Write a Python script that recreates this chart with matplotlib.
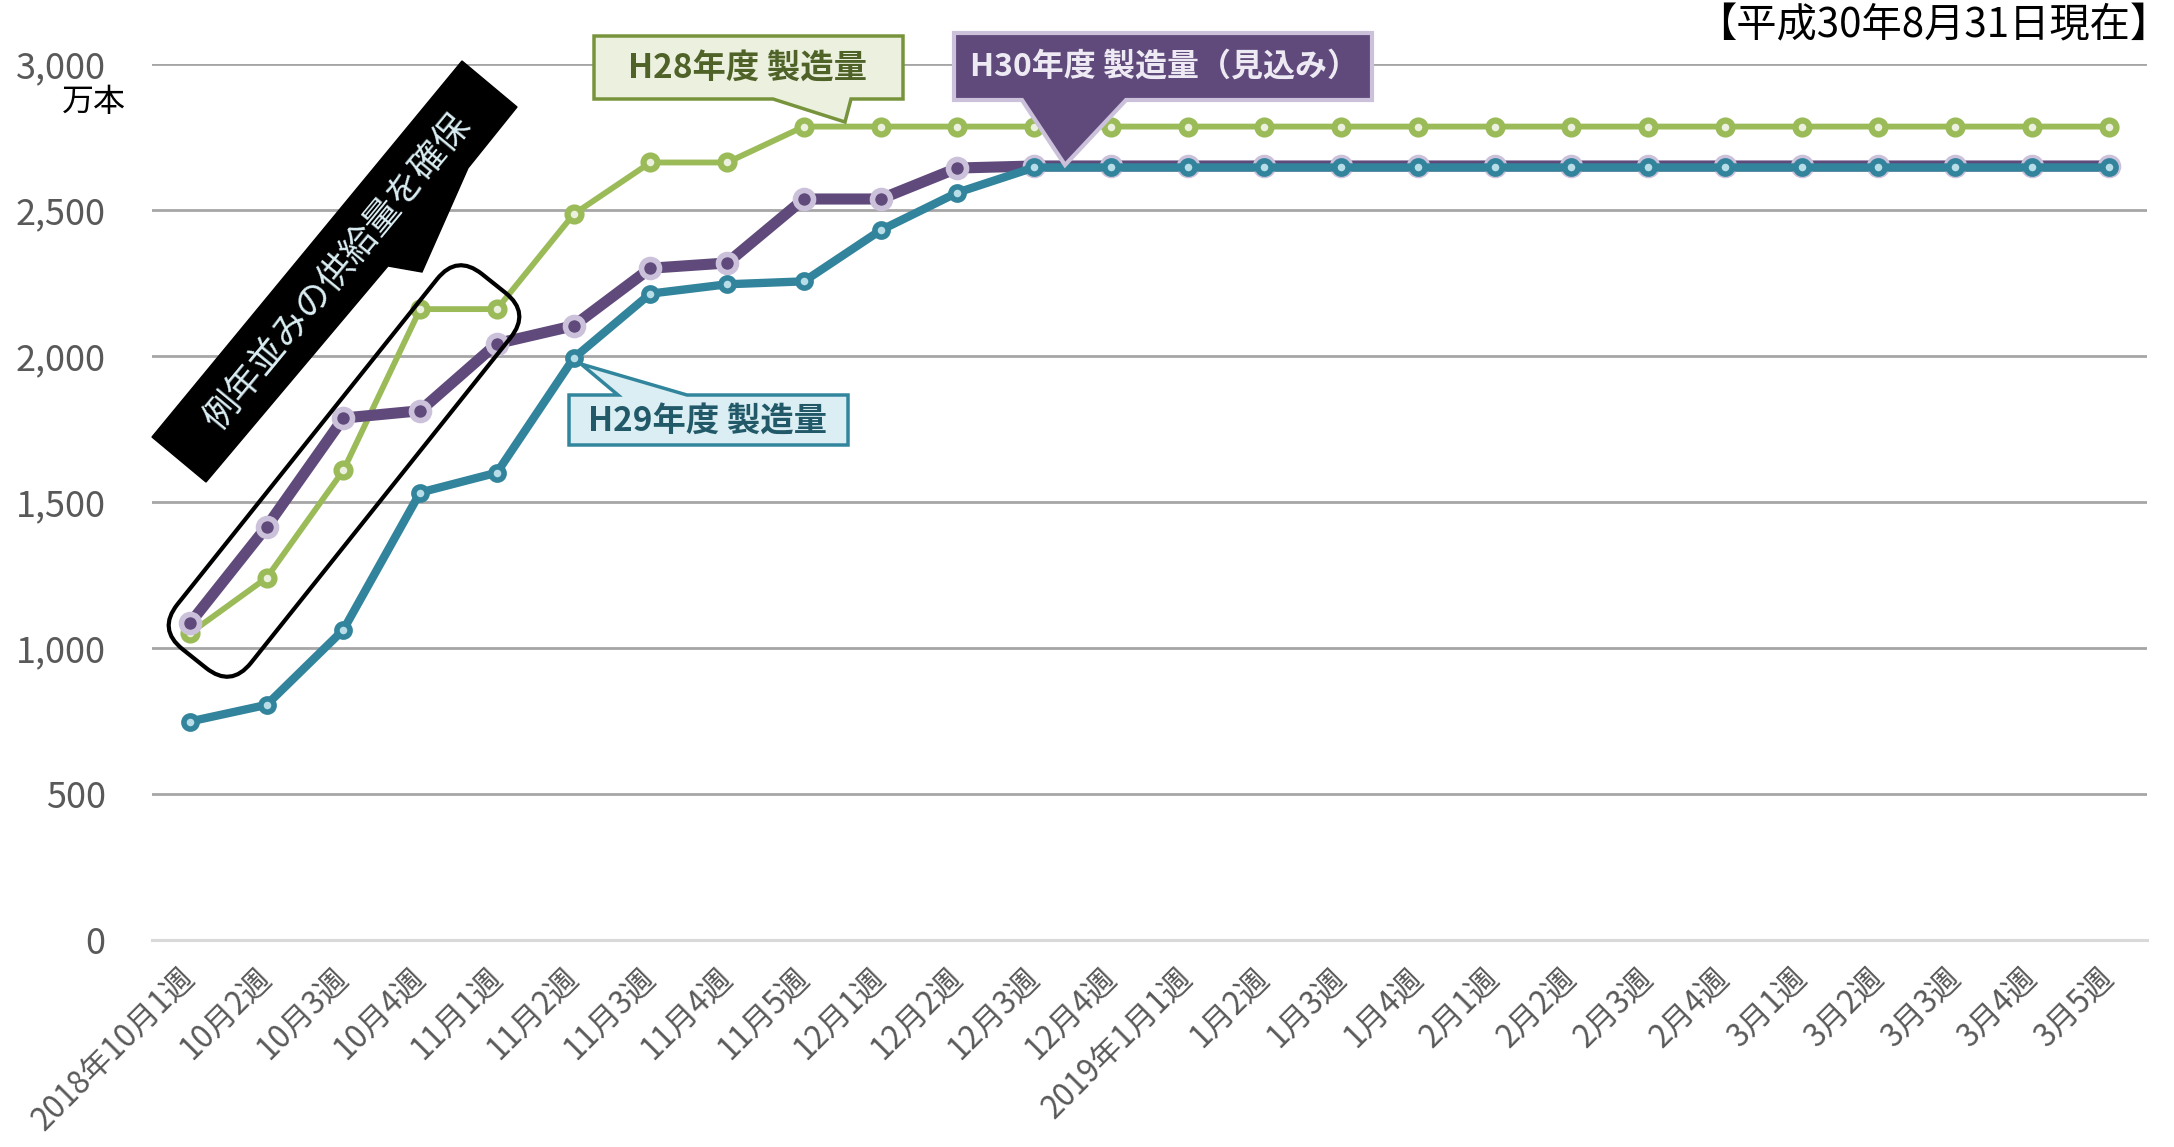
import matplotlib
matplotlib.use('Agg')
import matplotlib.pyplot as plt
from matplotlib.patches import Polygon, FancyBboxPatch
from matplotlib.transforms import Affine2D

plt.rcParams['font.family'] = ['Noto Sans CJK JP', 'DejaVu Sans']

# data (万本)
weeks = ['2018年10月1週', '10月2週', '10月3週', '10月4週', '11月1週', '11月2週',
         '11月3週', '11月4週', '11月5週', '12月1週', '12月2週', '12月3週', '12月4週',
         '2019年1月1週', '1月2週', '1月3週', '1月4週', '2月1週', '2月2週', '2月3週',
         '2月4週', '3月1週', '3月2週', '3月3週', '3月4週', '3月5週']
h28 = [1050, 1240, 1608, 2160, 2160, 2485, 2662, 2662, 2785, 2785, 2785, 2785, 2785,
       2785, 2785, 2785, 2785, 2785, 2785, 2785, 2785, 2785, 2785, 2785, 2785, 2785]
h29 = [748, 805, 1062, 1532, 1600, 1992, 2213, 2245, 2255, 2430, 2559, 2645, 2645,
       2645, 2645, 2645, 2645, 2645, 2645, 2645, 2645, 2645, 2645, 2645, 2645, 2645]
h30 = [1084, 1415, 1787, 1812, 2042, 2103, 2300, 2318, 2537, 2537, 2643, 2650, 2650,
       2650, 2650, 2650, 2650, 2650, 2650, 2650, 2650, 2650, 2650, 2650, 2650, 2650]
yticks = [0, 500, 1000, 1500, 2000, 2500, 3000]

W, H = 2174, 1147
fig = plt.figure(figsize=(W / 100, H / 100), dpi=100)
ax = fig.add_axes([0.0697, 0.1805, 0.9179, 0.7639])

x = list(range(len(weeks)))
ax.plot(x, h28, color='#9BBB59', lw=4.2, marker='o', ms=10, mfc='#EBF1DE',
        mec='#9BBB59', mew=4.5, zorder=3)
ax.plot(x, h30, color='#604A7B', lw=8, marker='o', ms=13, mfc='#604A7B',
        mec='#CCC1DA', mew=4, zorder=4)
ax.plot(x, h29, color='#31849B', lw=6, marker='o', ms=9.5, mfc='#B7DEE8',
        mec='#31849B', mew=4, zorder=5)

ax.set_xlim(-0.5, len(weeks) - 0.5)
ax.set_ylim(0, 3000)
ax.set_yticks(yticks)
ax.set_yticklabels([f'{v:,}' for v in yticks])
ax.set_xticks(x)
ax.set_xticklabels(weeks, rotation=45, ha='right', va='center', rotation_mode='anchor')
ax.tick_params(axis='y', length=0, pad=33, labelsize=26, labelcolor='#595959')
ax.tick_params(axis='x', length=0, pad=24, labelsize=22.5, labelcolor='#595959')
ax.grid(axis='y', color='#A6A6A6', lw=2)
ax.set_axisbelow(True)
for s in ['top', 'left', 'right']:
    ax.spines[s].set_visible(False)
ax.spines['bottom'].set_color('#D9D9D9')
ax.spines['bottom'].set_linewidth(2.2)

# annotations in pixel coords (origin top-left)
px = Affine2D().scale(1 / W, -1 / H).translate(0, 1) + fig.transFigure


def fx(x_, y_):
    return x_ / W, 1 - y_ / H


fig.text(*fx(2170, 26), '【平成30年8月31日現在】', ha='right', va='center', fontsize=29)
fig.text(*fx(94, 102), '万本', ha='center', va='center', fontsize=23)

# H28 callout
fig.add_artist(Polygon([(594, 36), (903, 36), (903, 99), (851, 99), (845, 122),
                        (773, 99), (594, 99)], closed=True, transform=px,
                       facecolor='#EBF1DE', edgecolor='#77933C', lw=2.5))
fig.text(*fx(748, 68), 'H28年度 製造量', ha='center', va='center', fontsize=24,
         fontweight='bold', color='#4F6228')

# H30 callout
fig.add_artist(Polygon([(954, 33), (1372, 33), (1372, 100), (1126, 100), (1065, 165),
                        (1022, 100), (954, 100)], closed=True, transform=px,
                       facecolor='#604A7B', edgecolor='#CCC1DA', lw=3))
fig.text(*fx(1165, 67), 'H30年度 製造量（見込み）', ha='center', va='center', fontsize=23,
         fontweight='bold', color='#EEEAF3')

# H29 callout
fig.add_artist(Polygon([(569, 395), (618, 395), (581, 364), (687, 395), (848, 395),
                        (848, 445), (569, 445)], closed=True, transform=px,
                       facecolor='#DAEEF3', edgecolor='#31859C', lw=2.5))
fig.text(*fx(708, 421), 'H29年度 製造量', ha='center', va='center', fontsize=24,
         fontweight='bold', color='#215968')

# black diagonal callout
fig.add_artist(Polygon([(462, 61), (517, 107), (468, 168), (422, 272), (388, 266),
                        (206, 482), (152, 437)], closed=True, transform=px,
                       facecolor='black', edgecolor='black', lw=1))
fig.text(*fx(338, 272), '例年並みの供給量を確保', ha='center', va='center',
         rotation=50.5, rotation_mode='anchor', fontsize=26, color='#DAEEF3')

# rounded outline around first weeks
L, w = 480, 94
rr = FancyBboxPatch((-L / 2, -w / 2), L, w, boxstyle='round,pad=0,rounding_size=32',
                    transform=Affine2D().rotate_deg(-51.4).translate(344, 471) + px,
                    facecolor='none', edgecolor='black', lw=3)
fig.add_artist(rr)

fig.savefig('out.png', dpi=100)
